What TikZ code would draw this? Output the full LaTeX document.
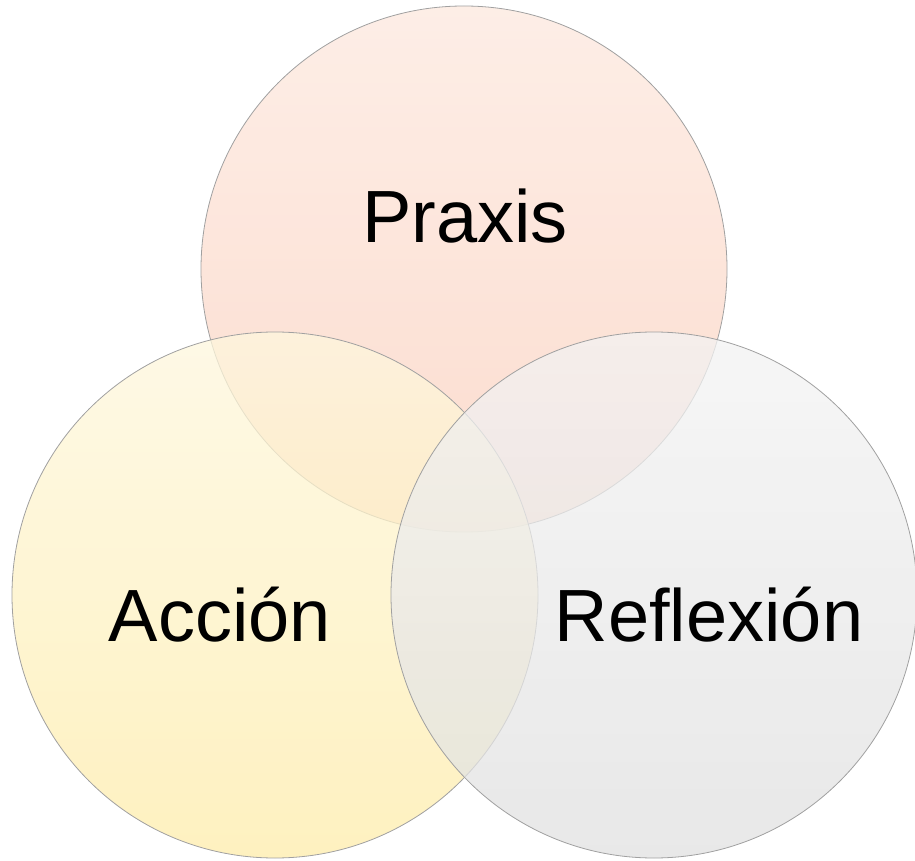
\documentclass[tikz,border=0pt]{standalone}
\usepackage{fontspec}
\setmainfont{Liberation Sans}
\definecolor{ptop}{RGB}{252,232,222}
\definecolor{pbot}{RGB}{251,208,190}
\definecolor{atop}{RGB}{254,247,222}
\definecolor{abot}{RGB}{254,236,170}
\definecolor{rtop}{RGB}{243,243,243}
\definecolor{rbot}{RGB}{224,224,224}
\definecolor{edge}{RGB}{160,160,160}
\tikzset{
  venn/.style={circle, minimum size=526pt, inner sep=0pt, draw=edge, line width=0.8pt, fill opacity=0.75},
  lbl/.style={anchor=base, text=black, font=\fontsize{74}{80}\selectfont}
}
\begin{document}
\begin{tikzpicture}[x=1pt,y=1pt]
\useasboundingbox (0,0) rectangle (915,860);
\node[venn, top color=ptop, bottom color=pbot] (praxis) at (464,591) {};
\node[venn, top color=atop, bottom color=abot] (accion) at (275,265) {};
\node[venn, top color=rtop, bottom color=rbot] (reflexion) at (654,265) {};
\node[lbl] (tp) at (465,617) {Praxis};
\node[lbl] (ta) at (220,219) {Acción};
\node[lbl] (tr) at (709,219) {Reflexión};
\end{tikzpicture}
\end{document}
